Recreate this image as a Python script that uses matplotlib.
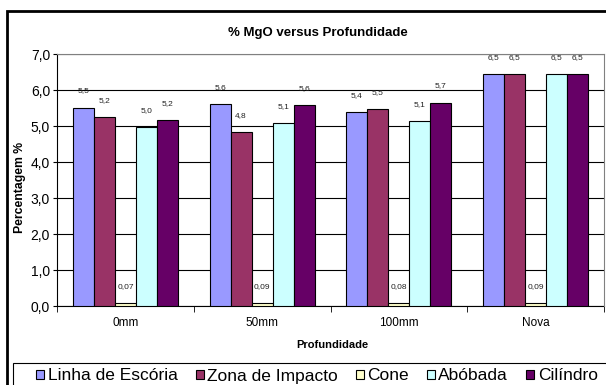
import matplotlib
matplotlib.use('Agg')
import matplotlib.pyplot as plt
from matplotlib.patches import Rectangle
import numpy as np

plt.rcParams['font.family'] = ['Liberation Sans', 'DejaVu Sans']

categories = ['0mm', '50mm', '100mm', 'Nova']
series = ['Linha de Escória', 'Zona de Impacto', 'Cone', 'Abóbada', 'Cilíndro']
colors = ['#9999FF', '#993366', '#FFFFCC', '#CCFFFF', '#660066']

linha = [5.51, 5.61, 5.38, 6.45]
zona = [5.24, 4.82, 5.47, 6.45]
cone = [0.07, 0.09, 0.08, 0.09]
abobada = [4.97, 5.07, 5.13, 6.45]
cilindro = [5.16, 5.57, 5.65, 6.45]
values = [linha, zona, cone, abobada, cilindro]

W, H = 606, 385
fig = plt.figure(figsize=(W / 100, H / 100), dpi=100)
ax = fig.add_axes([57 / W, (H - 306) / H, (604 - 57) / W, (306 - 54) / H])

x = np.arange(len(categories))
w = 1 / 6.5
for i, (name, vals, c) in enumerate(zip(series, values, colors)):
    pos = x + (i - 2) * w
    ax.bar(pos, vals, width=w, color=c, edgecolor='black', linewidth=0.8,
           label=name, zorder=3)
    fmt = '{:.2f}' if name == 'Cone' else '{:.1f}'
    for px, v in zip(pos, vals):
        ax.annotate(fmt.format(v).replace('.', ','), (px, v), xytext=(0, 12),
                    textcoords='offset points', ha='center', va='center',
                    fontsize=6, color='#222222')

ax.set_xlim(-0.5, 3.5)
ax.set_ylim(0, 7)
yt = np.arange(0, 7.1, 1)
ax.set_yticks(yt)
ax.set_yticklabels([('%.1f' % t).replace('.', ',') for t in yt])
ax.tick_params(axis='y', labelsize=10, length=3, pad=2)
ax.set_xticks(x)
ax.set_xticklabels(categories)
ax.tick_params(axis='x', which='major', length=0, labelsize=8.5, pad=8)
ax.set_xticks(np.arange(-0.5, 3.6, 1), minor=True)
ax.tick_params(axis='x', which='minor', length=4, direction='out')
ax.yaxis.grid(True, color='black', linewidth=0.8)
ax.set_axisbelow(True)
for s in ['top', 'right']:
    ax.spines[s].set_color('#808080')
    ax.spines[s].set_zorder(4)

fig.text(318 / W, 1 - 33 / H, '% MgO versus Profundidade', ha='center',
         va='center', fontsize=9.5, fontweight='bold')
fig.text(20 / W, 1 - 187 / H, 'Percentagem %', rotation=90, ha='center',
         va='center', fontsize=8.8, fontweight='bold')
fig.text(332 / W, 1 - 345 / H, 'Profundidade', ha='center', va='center',
         fontsize=8, fontweight='bold')

# outer chart border and legend box run off the right/bottom edges
fig.patches.append(Rectangle((7 / W, -0.1), 1.2, 1 - 11 / H + 0.1,
                             transform=fig.transFigure, fill=False,
                             edgecolor='black', linewidth=2))
fig.patches.append(Rectangle((13 / W, -0.1), 1.2, 1 - 363 / H + 0.1,
                             transform=fig.transFigure, fill=False,
                             edgecolor='black', linewidth=0.8))

fig.legend(loc='center', bbox_to_anchor=(317 / W, 1 - 376 / H), ncol=5,
           frameon=False, fontsize=12.5, handlelength=0.45, handleheight=0.45,
           handletextpad=0.2, columnspacing=1.05, borderpad=0)

fig.savefig('out.png', dpi=100)
